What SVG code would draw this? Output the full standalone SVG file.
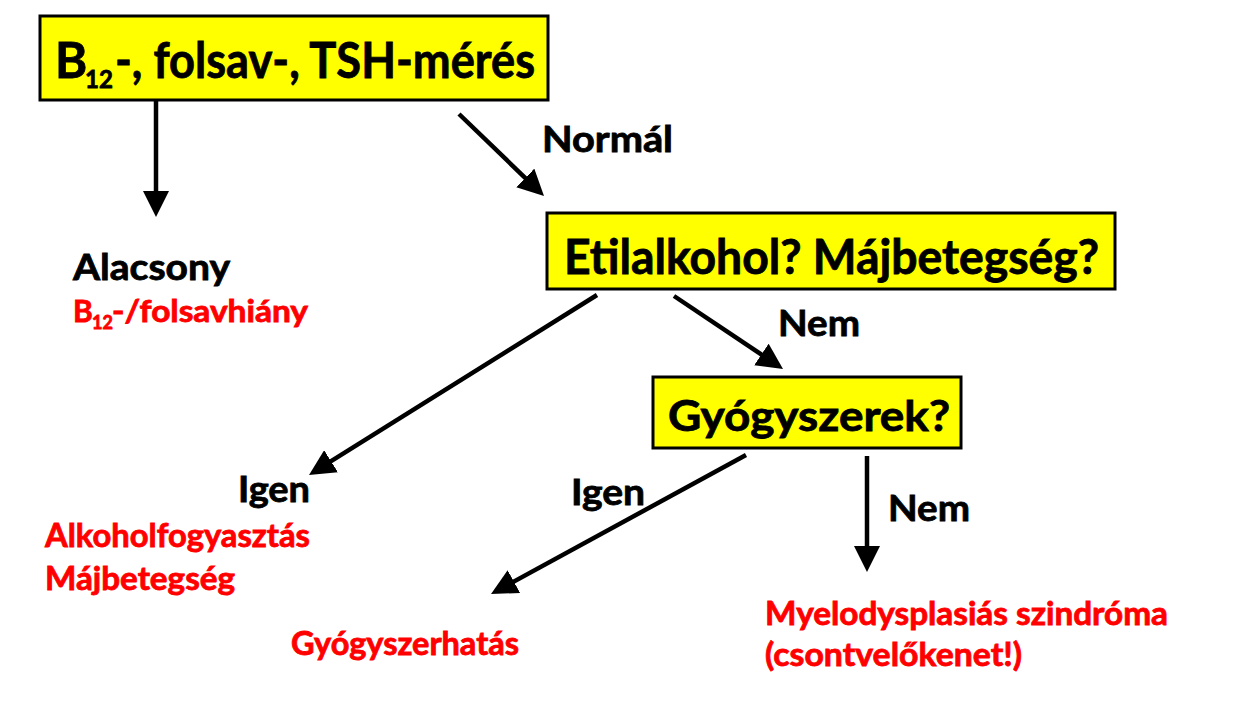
<svg xmlns="http://www.w3.org/2000/svg" width="1252" height="709" viewBox="0 0 1252 709">
<defs>
<style>
.box{fill:#ffff00;stroke:#000;stroke-width:3}
.t{font-family:Lato,"Open Sans","Liberation Sans",sans-serif;font-weight:bold;fill:#000;stroke:#000;stroke-width:0.8}
.r{fill:#ff0000;stroke:#ff0000}
.c{stroke:#000;stroke-width:4.5;fill:none;marker-end:url(#ah)}
</style>
<marker id="ah" markerUnits="userSpaceOnUse" markerWidth="26" markerHeight="26" refX="16" refY="13" orient="auto" viewBox="0 0 26 26">
<path d="M0,0 L26,13 L0,26 z" fill="#000"/>
</marker>
</defs>
<rect width="1252" height="709" fill="#fff"/>
<g id="connectors">
<line class="c" x1="156" y1="100" x2="156" y2="207"/>
<line class="c" x1="459" y1="114" x2="536.8" y2="189.1"/>
<line class="c" x1="597" y1="295" x2="317.5" y2="469.7"/>
<line class="c" x1="674" y1="296" x2="774.7" y2="363.4"/>
<line class="c" x1="746" y1="455" x2="499.8" y2="589.2"/>
<line class="c" x1="867" y1="456" x2="867" y2="562"/>
</g>
<g id="node-meres">
<rect class="box" x="40" y="16" width="508" height="84"/>
<text class="t" font-size="49" y="78"><tspan x="55">B</tspan><tspan x="85" y="88" font-size="24">12</tspan><tspan x="115" y="78" textLength="420" lengthAdjust="spacingAndGlyphs">-, folsav-, TSH-mérés</tspan></text>
</g>
<g id="node-etil">
<rect class="box" x="547" y="213" width="568" height="76"/>
<text class="t" font-size="47" x="564" y="274" textLength="535" lengthAdjust="spacingAndGlyphs">Etilalkohol? Májbetegség?</text>
</g>
<g id="node-gyogy">
<rect class="box" x="653" y="377" width="308" height="71"/>
<text class="t" font-size="42" x="668" y="431" textLength="282" lengthAdjust="spacingAndGlyphs">Gyógyszerek?</text>
</g>
<g id="label-normal"><text class="t" font-size="36" x="542" y="152" textLength="131" lengthAdjust="spacingAndGlyphs">Normál</text></g>
<g id="node-alacsony">
<text class="t" font-size="36" x="73" y="280" textLength="157" lengthAdjust="spacingAndGlyphs">Alacsony</text>
<text class="t r" font-size="30" y="322"><tspan x="73">B</tspan><tspan x="92" y="329" font-size="18">12</tspan><tspan x="112" y="322" textLength="196" lengthAdjust="spacingAndGlyphs">-/folsavhiány</tspan></text>
</g>
<g id="label-nem1"><text class="t" font-size="36" x="778" y="336" textLength="82" lengthAdjust="spacingAndGlyphs">Nem</text></g>
<g id="node-alkohol">
<text class="t" font-size="36" x="238" y="502" textLength="72" lengthAdjust="spacingAndGlyphs">Igen</text>
<text class="t r" font-size="32" x="45" y="547" textLength="265" lengthAdjust="spacingAndGlyphs">Alkoholfogyasztás</text>
<text class="t r" font-size="32" x="45" y="590" textLength="190" lengthAdjust="spacingAndGlyphs">Májbetegség</text>
</g>
<g id="label-igen2"><text class="t" font-size="36" x="571" y="505" textLength="74" lengthAdjust="spacingAndGlyphs">Igen</text></g>
<g id="label-nem2"><text class="t" font-size="36" x="888" y="521" textLength="82" lengthAdjust="spacingAndGlyphs">Nem</text></g>
<g id="node-gyogyhatas"><text class="t r" font-size="32" x="291" y="655" textLength="228" lengthAdjust="spacingAndGlyphs">Gyógyszerhatás</text></g>
<g id="node-mds">
<text class="t r" font-size="32" x="765" y="625" textLength="403" lengthAdjust="spacingAndGlyphs">Myelodysplasiás szindróma</text>
<text class="t r" font-size="32" x="765" y="666" textLength="257" lengthAdjust="spacingAndGlyphs">(csontvelőkenet!)</text>
</g>
</svg>
